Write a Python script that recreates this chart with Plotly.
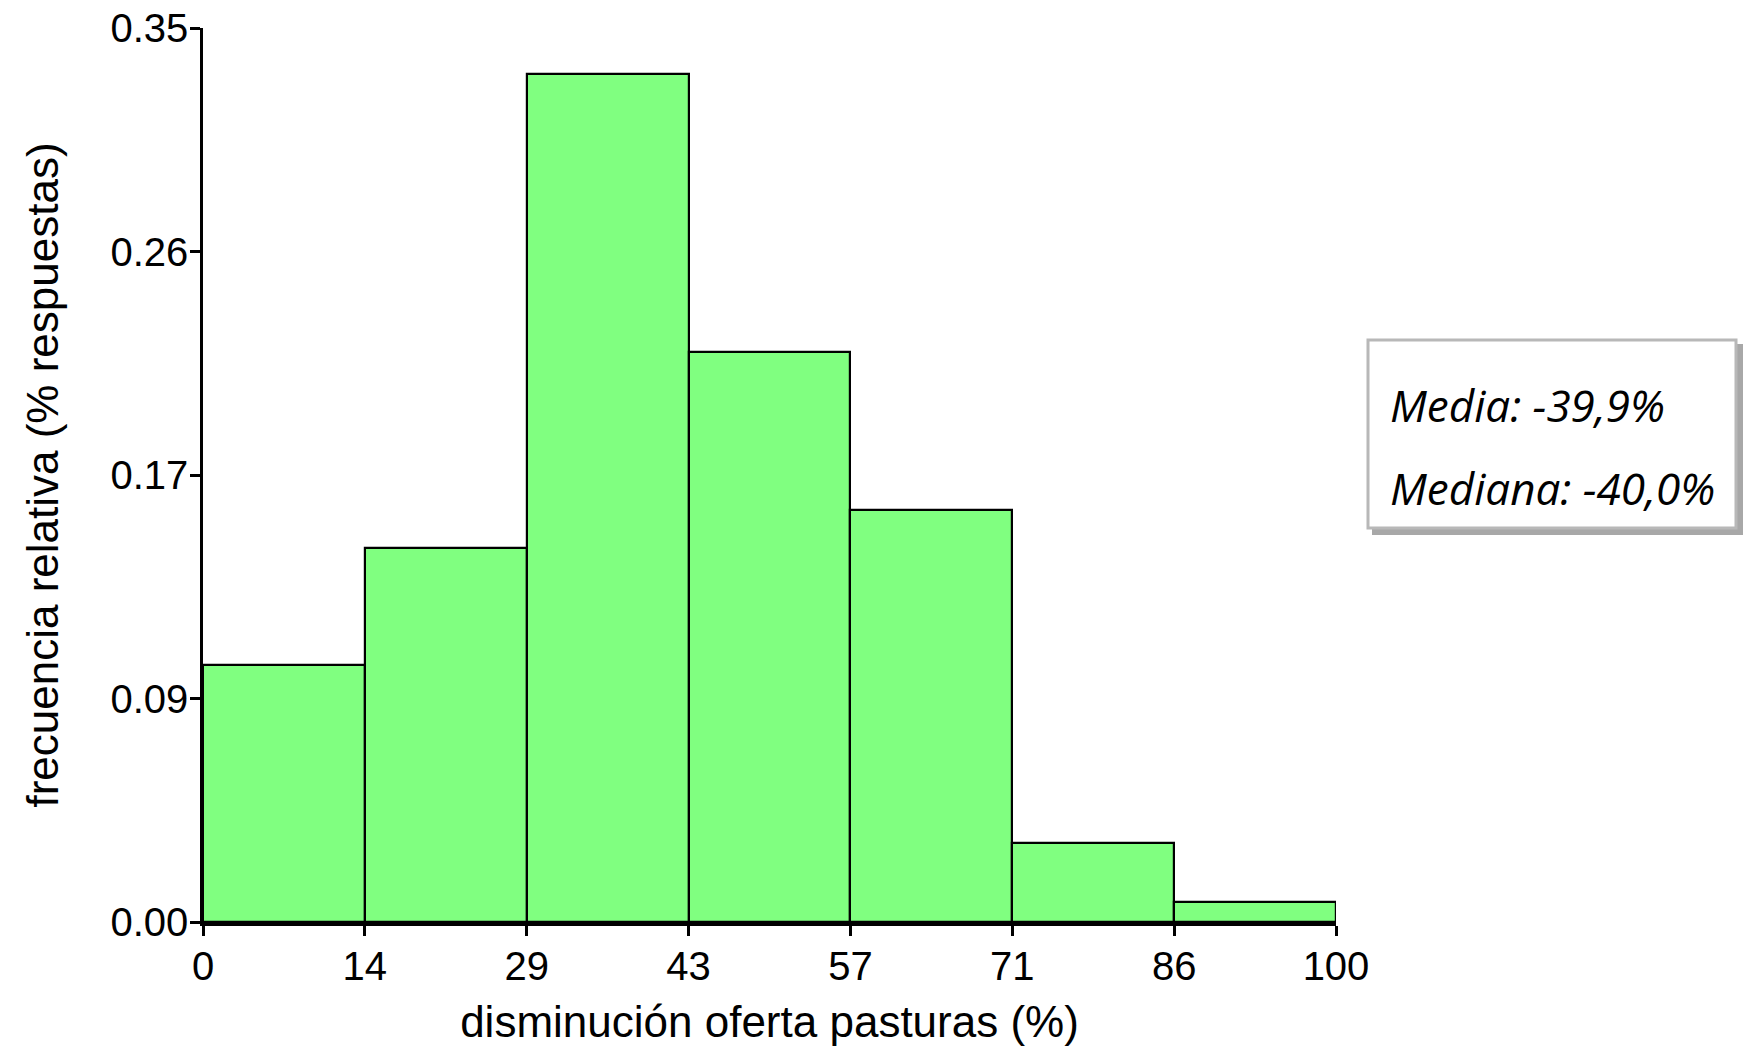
import plotly.graph_objects as go

# Data
bin_edges = [0, 14.2857, 28.5714, 42.8571, 57.1429, 71.4286, 85.7143, 100]
x_tick_labels = ["0", "14", "29", "43", "57", "71", "86", "100"]
rel_freq = [0.1006, 0.1464, 0.3320, 0.2232, 0.1613, 0.0309, 0.0078]
y_tick_vals = [0.0, 0.0875, 0.175, 0.2625, 0.35]
y_tick_labels = ["0.00", "0.09", "0.17", "0.26", "0.35"]
stats_lines = ["Media: -39,9%", "Mediana: -40,0%"]

centers = [(a + b) / 2 for a, b in zip(bin_edges[:-1], bin_edges[1:])]
widths = [b - a for a, b in zip(bin_edges[:-1], bin_edges[1:])]

OFF = 0  # page body margin removed via post_script
W, H = 1744, 1049
L, T = 203 - OFF, 28 - OFF
pw, ph = 1133, 894
R = W - L - pw
B = H - T - ph

def px(xp):  # page pixel -> paper
    return (xp - OFF - L) / pw

def py(yp):
    return (T + ph - (yp - OFF)) / ph

fig = go.Figure()
fig.add_trace(go.Bar(
    x=centers, y=rel_freq, width=widths,
    marker=dict(color="#80FF80", line=dict(color="black", width=2.2)),
    hoverinfo="x+y",
))

tick_font = dict(family="Liberation Sans, Arial, sans-serif", size=40, color="black")
title_font = dict(family="Liberation Sans, Arial, sans-serif", size=44, color="black")

fig.update_layout(
    width=W, height=H,
    margin=dict(l=L, r=R, t=T, b=B, pad=0, autoexpand=False),
    paper_bgcolor="white", plot_bgcolor="white",
    showlegend=False,
    font=tick_font,
    bargap=0,
    xaxis=dict(
        range=[0, 100], tickmode="array", tickvals=bin_edges, ticktext=x_tick_labels,
        showline=True, linecolor="black", linewidth=3.5,
        ticks="outside", ticklen=10, tickwidth=2.5, tickcolor="black",
        ticklabeloverflow="allow", ticklabelstandoff=-4, automargin=False,
        showgrid=False, zeroline=False, tickfont=tick_font,
        title=dict(text="disminución oferta pasturas (%)", font=title_font, standoff=20),
    ),
    yaxis=dict(
        range=[0, 0.35], tickmode="array", tickvals=y_tick_vals, ticktext=y_tick_labels,
        showline=True, linecolor="black", linewidth=2.5,
        ticks="outside", ticklen=10, tickwidth=2.5, tickcolor="black",
        ticklabeloverflow="allow", ticklabelstandoff=-6, automargin=False,
        showgrid=False, zeroline=False, tickfont=tick_font,
        title=dict(text="frecuencia relativa (% respuestas)", font=title_font, standoff=38),
    ),
)

# Stats box with bevel/shadow
bx0, bx1, by0, by1 = 1368, 1736, 340, 528
fig.add_shape(type="rect", xref="paper", yref="paper",
              x0=px(bx0 + 4), x1=px(bx1 + 7), y0=py(by1 + 7), y1=py(by0 + 4),
              fillcolor="rgba(110,110,110,0.6)", line=dict(width=0), layer="above")
fig.add_shape(type="rect", xref="paper", yref="paper",
              x0=px(bx0), x1=px(bx1), y0=py(by1), y1=py(by0),
              fillcolor="white", line=dict(color="#b8b8b8", width=3), layer="above")

text_font = dict(family="Open Sans, Noto Sans, sans-serif", size=44, color="black")
for txt, yc in zip(stats_lines, [405, 488]):
    fig.add_annotation(xref="paper", yref="paper", x=px(1388), y=py(yc),
                       text="<i>" + txt + "</i>", showarrow=False,
                       xanchor="left", yanchor="middle", font=text_font)

fig.write_html("out.html", config={"displayModeBar": False},
               post_script="document.body.style.margin='0';")
